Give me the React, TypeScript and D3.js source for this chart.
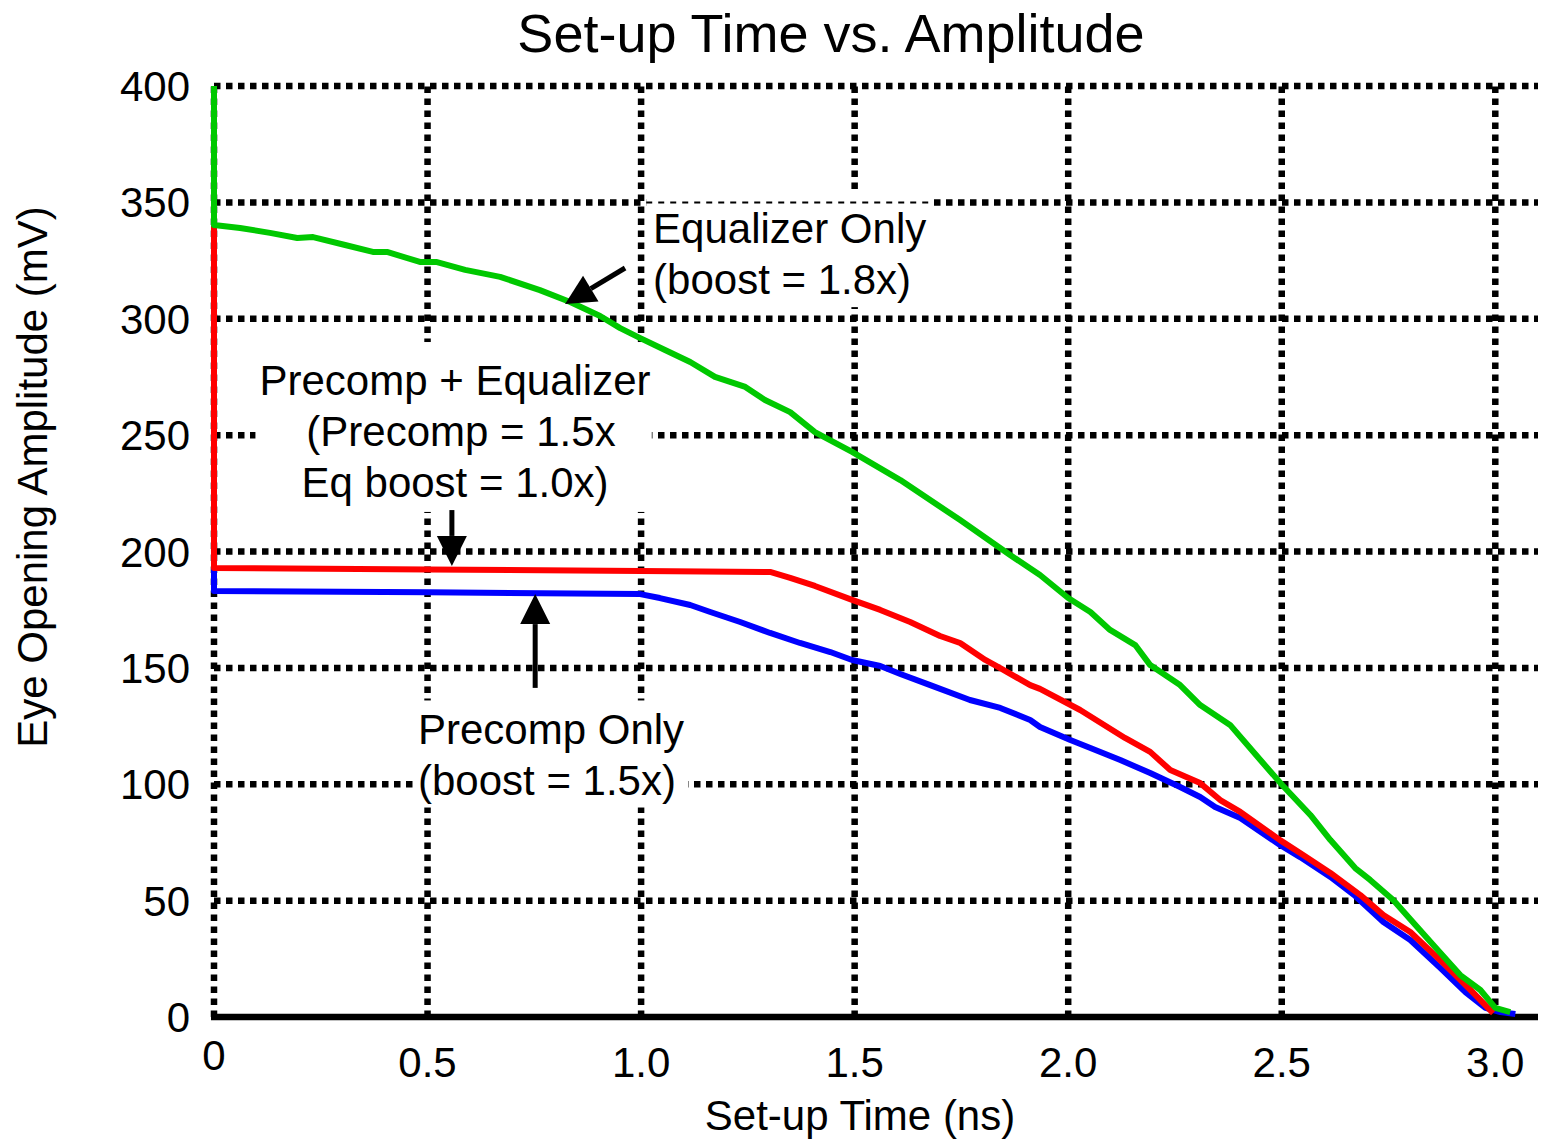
import React, { useEffect, useRef } from "react";
import * as d3 from "d3";

// Equalizer Only (boost = 1.8x)
const eqX = [0, 0, 0.061, 0.131, 0.195, 0.232, 0.307, 0.372, 0.405, 0.482, 0.52, 0.588, 0.67, 0.763, 0.834, 0.904, 0.951, 0.998, 1.056, 1.115, 1.173, 1.244, 1.29, 1.349, 1.407, 1.494, 1.607, 1.747, 1.864, 1.934, 2.0, 2.052, 2.098, 2.157, 2.192, 2.262, 2.309, 2.379, 2.45, 2.501, 2.567, 2.614, 2.672, 2.707, 2.761, 2.813, 2.859, 2.918, 2.965, 3.0, 3.035];
const eqY = [400, 340.3, 339, 336.9, 334.7, 335.1, 331.7, 328.7, 328.7, 324.4, 324.4, 321, 318, 312.3, 307.2, 301.2, 296, 291.7, 286.6, 281.4, 275, 270.7, 265.1, 259.9, 251.3, 242.8, 230.7, 213.5, 198.5, 189.9, 180, 174, 166.3, 159.8, 151.2, 142.6, 134, 125.5, 110.4, 99.7, 86.8, 76, 64, 58.9, 50.3, 39.5, 30.1, 18, 11.6, 3.9, 2.1];

// Precomp + Equalizer
const pcEqX = [0, 0, 0.5, 1.0, 1.302, 1.349, 1.407, 1.494, 1.56, 1.63, 1.7, 1.747, 1.806, 1.841, 1.911, 1.934, 2.028, 2.133, 2.192, 2.239, 2.309, 2.356, 2.403, 2.496, 2.543, 2.614, 2.684, 2.738, 2.801, 2.883, 2.942, 2.995];
const pcEqY = [340, 192.9, 192.3, 191.6, 191.2, 188.7, 185.2, 179.2, 174.9, 169.7, 163.7, 160.7, 153.4, 149.9, 142.6, 141, 131.9, 119.9, 113.9, 106.1, 100.5, 93.2, 88.1, 76, 70.5, 61.9, 52.4, 43.8, 36.5, 22.3, 11.6, 1.7];

// Precomp Only (boost = 1.5x)
const pcX = [0, 0, 0.5, 0.998, 1.044, 1.115, 1.162, 1.232, 1.302, 1.372, 1.443, 1.494, 1.56, 1.607, 1.677, 1.77, 1.841, 1.911, 1.934, 2.005, 2.052, 2.122, 2.192, 2.262, 2.309, 2.344, 2.403, 2.496, 2.543, 2.614, 2.672, 2.738, 2.801, 2.871, 2.93, 2.977, 3.012, 3.047];
const pcY = [193, 183, 182.5, 181.7, 180, 177, 174, 169.7, 165, 160.7, 156.8, 153.4, 150.8, 147.4, 142.6, 136.2, 132.8, 127.6, 124.6, 119, 115.6, 110.4, 104.8, 98.8, 94.5, 90.2, 85.5, 73.9, 68.7, 60.2, 52, 40.8, 33.1, 21.1, 10.7, 3.9, 2.1, 1.3];

const xTicks = [0, 0.5, 1.0, 1.5, 2.0, 2.5, 3.0];
const xTickLabels = ["0", "0.5", "1.0", "1.5", "2.0", "2.5", "3.0"];
const yTicks = [0, 50, 100, 150, 200, 250, 300, 350, 400];

const FONT = "'Liberation Sans', Arial, Helvetica, sans-serif";

export default function App() {
  const ref = useRef<SVGSVGElement>(null);

  useEffect(() => {
    const W = 1542, H = 1139;
    const margin = { top: 86, right: 4, bottom: 122, left: 214 };
    const svg = d3.select(ref.current);
    svg.selectAll("*").remove();

    const x = d3.scaleLinear().domain([0, 3.1]).range([margin.left, W - margin.right]);
    const y = d3.scaleLinear().domain([0, 400]).range([H - margin.bottom, margin.top]);

    svg.append("rect").attr("width", W).attr("height", H).attr("fill", "#fff");

    // dotted grid
    const grid = svg.append("g").attr("stroke", "#000").attr("stroke-width", 6.5).attr("stroke-dasharray", "6.5 5.5");
    yTicks.filter((d) => d > 0).forEach((d) => {
      grid.append("line").attr("x1", x(0)).attr("x2", x(3.1)).attr("y1", y(d)).attr("y2", y(d));
    });
    xTicks.forEach((d) => {
      grid.append("line").attr("x1", x(d)).attr("x2", x(d)).attr("y1", y(0)).attr("y2", y(400));
    });
    // bottom axis line
    svg.append("line").attr("x1", x(0) - 3).attr("x2", x(3.1)).attr("y1", y(0)).attr("y2", y(0))
      .attr("stroke", "#000").attr("stroke-width", 6.5);

    // white boxes behind annotations
    const boxes = [
      { x0: 1.012, x1: 1.68, y0: 355, y1: 305 },
      { x0: 0.097, x1: 1.025, y0: 290, y1: 217 },
      { x0: 0.47, x1: 1.11, y0: 136, y1: 90 },
    ];
    boxes.forEach((b) => {
      svg.append("rect")
        .attr("x", x(b.x0)).attr("y", y(b.y0))
        .attr("width", x(b.x1) - x(b.x0)).attr("height", y(b.y1) - y(b.y0))
        .attr("fill", "#fff");
    });
    svg.append("line").attr("x1", x(1.012)).attr("x2", x(1.68)).attr("y1", y(350)).attr("y2", y(350))
      .attr("stroke", "#000").attr("stroke-width", 2).attr("stroke-dasharray", "6 6");

    // curves
    const line = d3.line<[number, number]>().x((d) => x(d[0])).y((d) => y(d[1]));
    const series = [
      { xs: pcX, ys: pcY, color: "#0000ff" },
      { xs: pcEqX, ys: pcEqY, color: "#ff0000" },
      { xs: eqX, ys: eqY, color: "#00c800" },
    ];
    series.forEach((s) => {
      const pts = s.xs.map((v, i) => [v, s.ys[i]] as [number, number]);
      svg.append("path").attr("d", line(pts)).attr("fill", "none")
        .attr("stroke", s.color).attr("stroke-width", 6).attr("stroke-linejoin", "round");
    });

    // arrows
    const arrow = (fx: number, fy: number, tx: number, ty: number) => {
      const x1 = x(fx), y1 = y(fy), x2 = x(tx), y2 = y(ty);
      const ang = Math.atan2(y2 - y1, x2 - x1);
      const hl = 30, hw = 15;
      const bx = x2 - hl * Math.cos(ang), by = y2 - hl * Math.sin(ang);
      svg.append("line").attr("x1", x1).attr("y1", y1).attr("x2", bx).attr("y2", by)
        .attr("stroke", "#000").attr("stroke-width", 5);
      const px = -Math.sin(ang) * hw, py = Math.cos(ang) * hw;
      svg.append("polygon")
        .attr("points", `${x2},${y2} ${bx + px},${by + py} ${bx - px},${by - py}`)
        .attr("fill", "#000");
    };
    arrow(0.9625, 321.8, 0.822, 306.3);
    arrow(0.557, 217.8, 0.557, 193.8);
    arrow(0.752, 141.4, 0.752, 181.7);

    const txt = (tx: number, ty: number, s: string, anchor = "start", size = 42) =>
      svg.append("text").attr("x", tx).attr("y", ty).attr("text-anchor", anchor)
        .attr("font-family", FONT).attr("font-size", size).attr("fill", "#000").text(s);

    // annotations
    txt(x(1.0) + 12, 243, "Equalizer Only");
    txt(x(1.0) + 12, 294, "(boost = 1.8x)");
    txt(455, 395, "Precomp + Equalizer", "middle");
    txt(461, 446, "(Precomp = 1.5x", "middle");
    txt(455, 497, "Eq boost = 1.0x)", "middle");
    txt(418, 744, "Precomp Only");
    txt(418, 795, "(boost = 1.5x)");

    // tick labels
    yTicks.forEach((d) => {
      txt(190, y(d) + 15, String(d), "end");
    });
    xTicks.forEach((d, i) => {
      txt(x(d), d === 0 ? 1070 : 1077, xTickLabels[i], "middle");
    });

    // titles
    txt(831, 52, "Set-up Time vs. Amplitude", "middle", 54);
    txt(860, 1130, "Set-up Time (ns)", "middle");
    svg.append("text").attr("transform", "translate(47,477) rotate(-90)").attr("text-anchor", "middle")
      .attr("font-family", FONT).attr("font-size", 42).text("Eye Opening Amplitude (mV)");
  }, []);

  return (
    <svg ref={ref} width={1542} height={1139}
      style={{ position: "absolute", left: 0, top: 0, display: "block" }} />
  );
}
